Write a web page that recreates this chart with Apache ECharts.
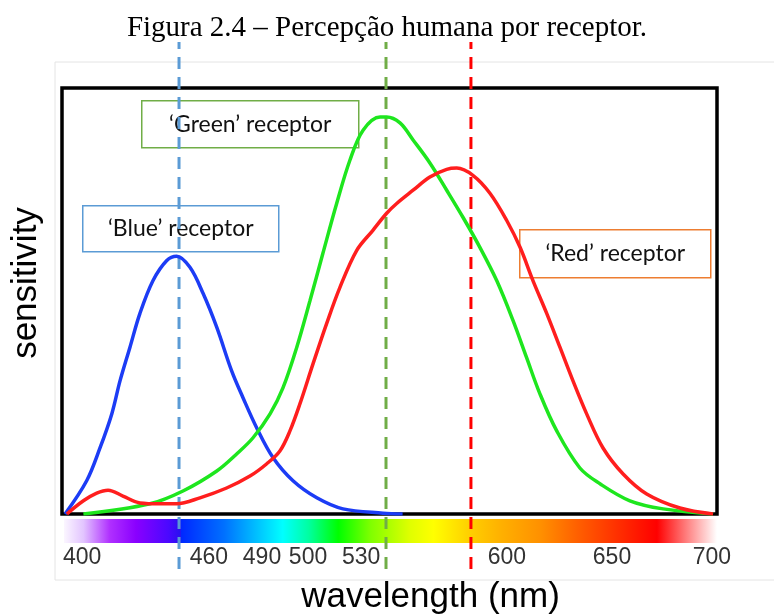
<!DOCTYPE html>
<html>
<head>
    <meta charset="utf-8">
    <title>Percepção humana por receptor</title>
    <script src="https://cdn.jsdelivr.net/npm/echarts@6/dist/echarts.min.js"></script>
</head>
<body style="margin:0;background:#fff;">
<div id="main" style="width: 774px;height:615px;"></div>
<script type="text/javascript">

    /* dados ===================================== */
    var blueNm = [401.4, 411.3, 417.4, 422.8, 426.6, 431.1, 435.7, 441.7, 448.0, 452.5, 458.6, 464.6, 470.9, 477.7, 482.9, 489.2, 496.7, 505.8, 516.7, 528.7, 547, 556];
    var blueVal = [0, 0.078, 0.155, 0.235, 0.313, 0.391, 0.471, 0.548, 0.595, 0.605, 0.579, 0.518, 0.438, 0.336, 0.273, 0.202, 0.132, 0.078, 0.038, 0.012, 0.002, 0];

    var greenNm = [409.8, 440.3, 455.4, 470.9, 480, 487.5, 495.3, 501.2, 507.5, 513.6, 519.5, 525.8, 531.9, 537.9, 545.7, 548.7, 554.8, 560.8, 568.5, 576.2, 583.7, 591.4, 599.1, 606.6, 612.8, 618.9, 626.6, 637.2, 646.4, 660.1, 675.3, 698.2];
    var greenVal = [0, 0.024, 0.054, 0.101, 0.141, 0.179, 0.235, 0.296, 0.391, 0.501, 0.612, 0.729, 0.831, 0.901, 0.932, 0.932, 0.918, 0.878, 0.824, 0.760, 0.696, 0.626, 0.548, 0.454, 0.367, 0.282, 0.195, 0.108, 0.071, 0.031, 0.012, 0];

    var redNm = [402.2, 409.8, 415.9, 421.1, 427.9, 435.7, 444.9, 452.5, 463.2, 475.4, 486.1, 493.8, 499.8, 504.4, 509, 515, 521.2, 527.3, 535, 542.4, 548.7, 553.3, 560.8, 568.5, 576.2, 580.8, 588.2, 596, 603.7, 609.8, 615.7, 622, 628.1, 634, 640.3, 647.8, 657, 667.8, 683, 698.2];
    var redVal = [0, 0.031, 0.049, 0.056, 0.042, 0.026, 0.024, 0.024, 0.038, 0.061, 0.089, 0.118, 0.148, 0.195, 0.259, 0.353, 0.447, 0.532, 0.619, 0.666, 0.706, 0.729, 0.760, 0.791, 0.809, 0.812, 0.795, 0.753, 0.689, 0.626, 0.548, 0.471, 0.391, 0.313, 0.235, 0.155, 0.094, 0.047, 0.014, 0];

    // picos marcados com linha tracejada (azul, verde, vermelho)
    var peakNm = [453.6, 548.4, 587.3];

    // rótulos do eixo x e onde aparecem na figura
    var tickLabels = ['400', '460', '490', '500', '530', '600', '650', '700'];
    var tickSpots = [409.2, 467.3, 491.6, 512.7, 537, 603.8, 651.9, 697.7];

    function pairs(xs, ys) {
        return xs.map(function (x, i) { return [x, ys[i]]; });
    }

    var myChart = echarts.init(document.getElementById('main'));

    var curveStyle = {type: 'line', smooth: 0.35, symbol: 'none', z: 3};

    var peakColors = ['#5b9bd5', '#70ad47', '#ff0000'];
    var peakSeries = peakNm.map(function (p, i) {
        return {
            type: 'line', xAxisIndex: 1, yAxisIndex: 1, symbol: 'none', z: 2,
            data: [[p, 0], [p, 1]],
            lineStyle: {color: peakColors[i], width: 3, type: [12, 8]}
        };
    });

    var spectrum = new echarts.graphic.LinearGradient(0, 0, 1, 0, [
        {offset: 0.00, color: '#fbf6ff'},
        {offset: 0.03, color: '#e2c4ff'},
        {offset: 0.07, color: '#b030ff'},
        {offset: 0.11, color: '#8a00ff'},
        {offset: 0.16, color: '#4a08ff'},
        {offset: 0.178, color: '#2a10f0'},
        {offset: 0.18, color: '#0028ff'},
        {offset: 0.245, color: '#0070ff'},
        {offset: 0.295, color: '#00c0ff'},
        {offset: 0.335, color: '#00ffff'},
        {offset: 0.375, color: '#00ffa0'},
        {offset: 0.42, color: '#00ff00'},
        {offset: 0.47, color: '#80ff00'},
        {offset: 0.53, color: '#e0ff00'},
        {offset: 0.566, color: '#ffff00'},
        {offset: 0.62, color: '#ffd000'},
        {offset: 0.67, color: '#ffb000'},
        {offset: 0.73, color: '#ff9000'},
        {offset: 0.786, color: '#ff6000'},
        {offset: 0.847, color: '#ff3000'},
        {offset: 0.908, color: '#ff0000'},
        {offset: 0.948, color: '#ff7070'},
        {offset: 1.00, color: '#ffffff'}
    ]);

    function noteBox(text, left, top, w, h, color) {
        return {
            type: 'group', left: left, top: top,
            children: [
                {type: 'rect', shape: {x: 0, y: 0, width: w, height: h},
                    style: {fill: '#fff', stroke: color, lineWidth: 1.5}},
                {type: 'text', x: w / 2, y: h / 2,
                    style: {text: text, fill: '#111', font: '23px Lato', align: 'center', verticalAlign: 'middle'}}
            ],
            z: 10
        };
    }

    myChart.setOption({
        animation: false,
        title: {
            text: 'Figura 2.4 – Percepção humana por receptor.',
            left: 'center', top: 9,
            textStyle: {fontFamily: '"Liberation Serif"', fontWeight: 'normal', fontSize: 29, color: '#000'}
        },
        grid: [
            {left: 62, right: 57, top: 88, bottom: 101, show: true, borderColor: '#000', borderWidth: 3.5,
                backgroundColor: 'transparent', outerBoundsMode: 'none'},
            {left: 62, right: 57, top: 42, bottom: 46, outerBoundsMode: 'none'}
        ],
        xAxis: [
            {
                type: 'value', min: 400, max: 700, gridIndex: 0,
                axisLine: {show: false}, axisTick: {show: false}, splitLine: {show: false},
                axisLabel: {
                    customValues: tickSpots,
                    margin: 32,
                    color: '#333',
                    fontFamily: '"Liberation Sans"',
                    fontSize: 23,
                    formatter: function (v) {
                        var i = tickSpots.indexOf(v);
                        return i >= 0 ? tickLabels[i] : '';
                    }
                },
                name: 'wavelength (nm)',
                nameLocation: 'middle',
                nameGap: 66,
                nameTextStyle: {fontFamily: '"Liberation Sans"', fontSize: 35, color: '#000', padding: [0, 0, 0, 82]}
            },
            {type: 'value', min: 400, max: 700, gridIndex: 1, show: false}
        ],
        yAxis: [
            {
                type: 'value', min: 0, max: 1, gridIndex: 0,
                axisLine: {show: false}, axisTick: {show: false}, axisLabel: {show: false}, splitLine: {show: false},
                name: 'sensitivity',
                nameLocation: 'middle',
                nameGap: 18,
                nameTextStyle: {fontFamily: '"Liberation Sans"', fontSize: 35, color: '#000', padding: [0, 0, 0, 36]}
            },
            {type: 'value', min: 0, max: 1, gridIndex: 1, show: false}
        ],
        graphic: [
            {type: 'rect', shape: {x: 55, y: 62, width: 740, height: 518},
                style: {fill: 'none', stroke: '#e4e4e4', lineWidth: 1}, z: -1},
            {type: 'rect', shape: {x: 64, y: 519, width: 653, height: 24},
                style: {fill: spectrum}, z: 0},
            noteBox('‘Green’ receptor', 141, 100, 217, 47, '#70ad47'),
            noteBox('‘Blue’ receptor', 82, 205, 196, 46, '#5b9bd5'),
            noteBox('‘Red’ receptor', 519, 229, 191, 48, '#ed7d31')
        ],
        series: peakSeries.concat([
            Object.assign({name: 'blue', data: pairs(blueNm, blueVal), lineStyle: {color: '#1c3cf5', width: 3.5}}, curveStyle),
            Object.assign({name: 'green', data: pairs(greenNm, greenVal), lineStyle: {color: '#1ee61e', width: 3.5}}, curveStyle),
            Object.assign({name: 'red', data: pairs(redNm, redVal), lineStyle: {color: '#ff1e1e', width: 3.5}}, curveStyle)
        ])
    });

</script>
</body>
</html>
